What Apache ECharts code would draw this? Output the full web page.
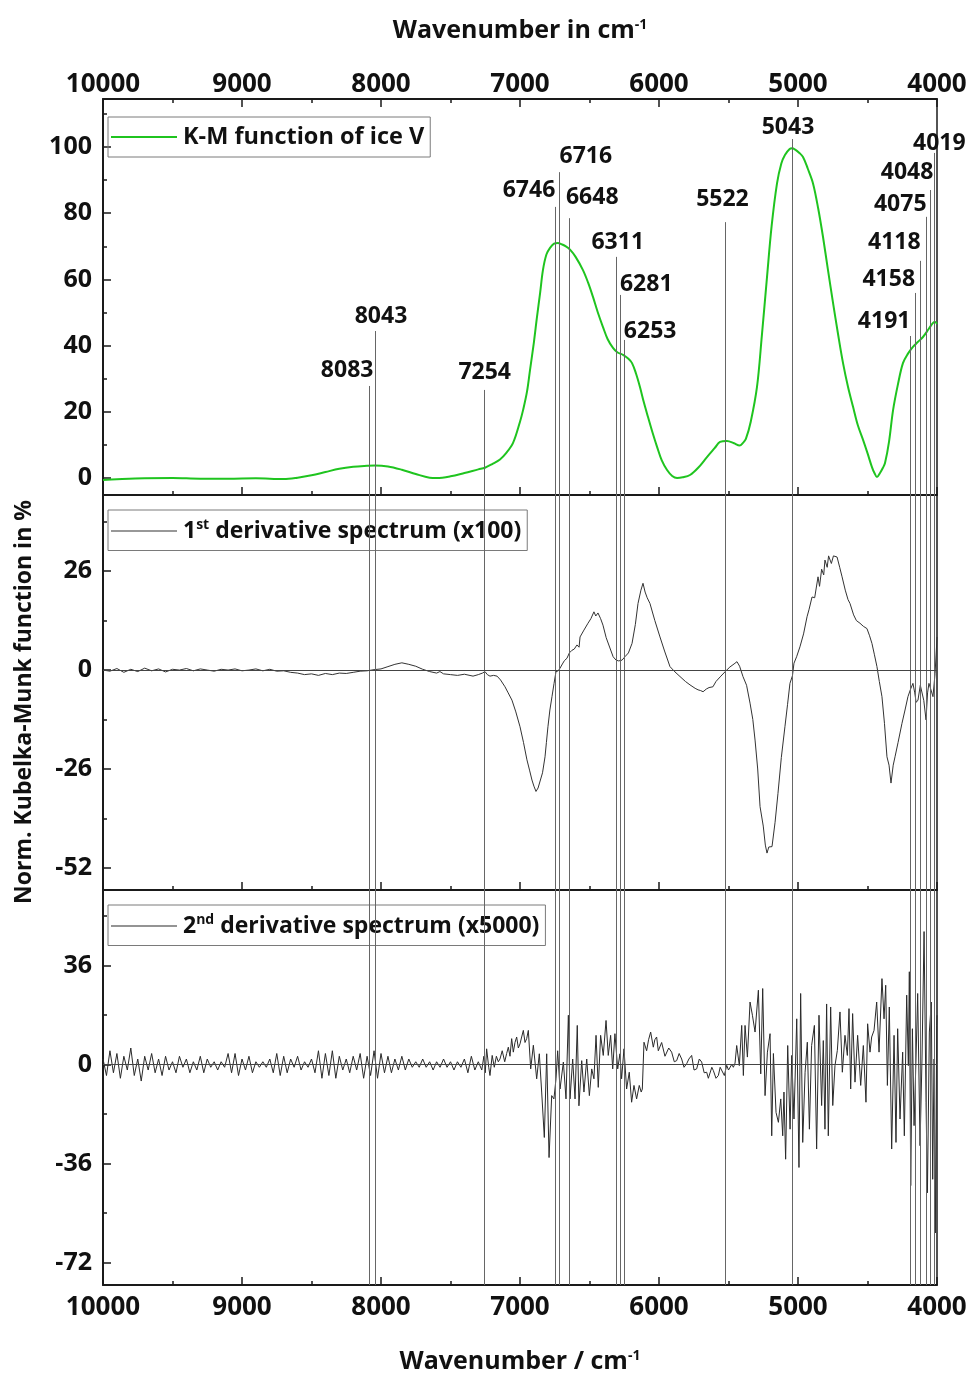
<!DOCTYPE html>
<html><head><meta charset="utf-8">
<script src="https://cdn.jsdelivr.net/npm/echarts@6/dist/echarts.min.js"></script>
<style>html,body{margin:0;padding:0;background:#fff}#c{width:973px;height:1376px}</style>
</head><body><div id="c"></div><script>
// ---------------- data ----------------
const xTickLabels = [10000, 9000, 8000, 7000, 6000, 5000, 4000];
const topTicks = [0, 20, 40, 60, 80, 100];
const midTicks = [-52, -26, 0, 26];
const botTicks = [-72, -36, 0, 36];

const peakWavenumbers = [8083, 8043, 7254, 6746, 6716, 6648, 6311, 6281, 6253, 5522, 5043, 4191, 4158, 4118, 4075, 4048, 4019];
const peakLineTops    = [27.8, 44.4, 26.6, 81.9, 92.4, 78.5, 66.8, 55.3, 41.7, 77.3, 102.4, 42.9, 55.9, 65.6, 78.9, 87.0, 98.2];
const peakLabelLevels = [32.6, 48.9, 32.0, 87.0, 97.0, 84.9, 71.3, 58.6, 44.4, 84.0, 106.0, 47.4, 60.1, 71.3, 82.5, 92.4, 101.2];

// K-M function of ice V [wavenumber, %]
const kmSpectrum = [[10000,-0.6],[9900,-0.4],[9700,-0.1],[9500,0],[9300,-0.2],[9100,-0.2],[8900,-0.1],[8700,-0.3],[8600,0.1],[8500,0.8],[8400,1.8],[8300,2.8],[8200,3.4],[8100,3.7],[8043,3.8],[7950,3.5],[7850,2.5],[7750,1.2],[7650,0.1],[7600,0],[7500,0.5],[7400,1.5],[7300,2.6],[7252,3.1],[7200,4.2],[7144,5.6],[7100,7.5],[7050,10.6],[7000,17],[6978,20.5],[6950,26],[6928,32.6],[6900,41],[6878,48.6],[6855,56],[6835,62.8],[6810,67.5],[6784,69.5],[6755,70.8],[6727,71],[6700,70.6],[6670,70],[6640,69],[6600,66.8],[6547,62.8],[6510,59],[6475,54.7],[6440,50],[6403,45.6],[6370,42],[6331,39.3],[6300,38],[6259,37.2],[6220,36],[6194,34.7],[6165,31.5],[6137,27.5],[6110,23],[6079,18.4],[6045,13.5],[6014,9.4],[5980,5.3],[5942,2.4],[5905,0.6],[5870,0],[5830,0.2],[5777,0.9],[5720,3],[5655,6.3],[5600,9],[5561,10.9],[5511,11.2],[5460,10.5],[5420,9.8],[5396,10.6],[5375,11.8],[5340,17],[5295,27.5],[5260,43],[5223,60.7],[5190,76],[5151,89],[5120,95],[5094,97.6],[5060,99.4],[5043,99.6],[5020,99.2],[4990,98.2],[4964,97],[4930,93.5],[4892,89],[4855,81.5],[4820,72.8],[4785,63],[4748,52.9],[4712,43.5],[4676,34.7],[4640,27.5],[4604,21.5],[4570,16],[4532,11.5],[4500,7.5],[4468,3.3],[4450,1.5],[4432,0.3],[4410,1.5],[4390,3],[4374,4.5],[4345,11],[4316,20.5],[4280,28.5],[4245,34.7],[4210,37.5],[4173,39.6],[4140,41],[4101,42.6],[4060,45],[4030,46.8],[4014,47.1],[4000,46.5]];

// 1st derivative spectrum (x100)
const firstDerivative = [[10000,0],[9950,-0.3],[9900,0.4],[9850,-0.6],[9800,0.2],[9750,-0.4],[9700,0.5],[9650,-0.2],[9600,0.3],[9550,-0.5],[9500,0.2],[9450,0],[9400,0.4],[9350,-0.2],[9300,0.3],[9250,0],[9200,-0.3],[9150,0.2],[9100,0],[9050,0.3],[9000,-0.2],[8950,0],[8900,0.3],[8850,-0.2],[8800,0.2],[8750,-0.3],[8700,-0.2],[8650,-0.6],[8600,-0.8],[8550,-1.2],[8500,-1],[8450,-1.4],[8400,-0.9],[8350,-1.2],[8300,-0.8],[8250,-0.9],[8200,-0.6],[8150,-0.3],[8100,-0.2],[8050,0.1],[8000,0.3],[7950,0.9],[7900,1.5],[7850,1.9],[7800,1.5],[7750,1],[7700,0.2],[7650,-0.4],[7600,-0.8],[7576,-0.4],[7550,-1],[7500,-1.2],[7450,-1.4],[7432,-1.3],[7400,-1.1],[7338,-1.6],[7300,-1.2],[7270,-0.8],[7252,-0.4],[7235,-1.2],[7216,-1.6],[7190,-1.4],[7165,-1.6],[7140,-2.6],[7108,-4.4],[7085,-6],[7058,-7.9],[7030,-11],[7000,-14.9],[6975,-19],[6950,-23.6],[6930,-26.5],[6914,-28.9],[6900,-30.5],[6885,-31.9],[6870,-31],[6856,-30.6],[6838,-27],[6820,-22.8],[6810,-19],[6799,-14.9],[6785,-10.5],[6770,-7],[6755,-3.5],[6741,-0.4],[6725,-0.2],[6712,0.5],[6695,1.6],[6680,2.5],[6662,3.1],[6645,4.5],[6626,5.2],[6610,5.5],[6590,6.6],[6575,6],[6568,8.7],[6540,10.5],[6511,12.3],[6490,13.5],[6468,15.3],[6455,14.2],[6439,15],[6420,13.5],[6403,11.8],[6380,8.5],[6353,5.8],[6330,3.5],[6309,2.6],[6290,2.4],[6266,2.6],[6245,3.5],[6220,4.5],[6194,7],[6170,12],[6151,17.5],[6130,21],[6115,22.8],[6100,20.5],[6085,19],[6065,17.5],[6030,13],[5993,8.7],[5960,5],[5921,0.9],[5885,-0.5],[5849,-1.7],[5810,-3],[5777,-3.9],[5740,-4.8],[5719,-5.2],[5700,-5.4],[5683,-5.7],[5660,-5],[5640,-4.6],[5612,-4.4],[5590,-3],[5560,-1.8],[5518,-0.2],[5490,0.8],[5460,1.6],[5439,2.2],[5420,1],[5396,-1.7],[5370,-4],[5345,-8.7],[5325,-13],[5309,-18.4],[5290,-26],[5273,-35.9],[5250,-41],[5235,-46],[5223,-48.1],[5210,-46.5],[5200,-47],[5187,-46.4],[5165,-40],[5144,-32.4],[5120,-23],[5094,-14.9],[5075,-9],[5058,-3.5],[5040,-1.5],[5029,1.8],[5010,3.5],[4986,6.1],[4960,9.5],[4935,14],[4920,16],[4899,19.2],[4880,19],[4856,24.5],[4845,22],[4830,26.5],[4815,25],[4806,28.9],[4790,27],[4780,30],[4770,29.7],[4760,28],[4745,30],[4719,29.7],[4700,27],[4683,24.5],[4660,21],[4640,18.5],[4626,17.5],[4600,14.5],[4580,13],[4554,12.3],[4530,11.5],[4504,10.9],[4485,9],[4468,7],[4450,4],[4432,0.9],[4415,-3],[4396,-7],[4378,-14],[4360,-22.8],[4345,-25],[4331,-29.7],[4315,-25],[4302,-22.8],[4280,-19],[4252,-14],[4230,-10.5],[4209,-7],[4190,-5],[4173,-3.5],[4160,-6],[4150,-8.5],[4137,-7.9],[4120,-4],[4108,-3.5],[4095,-8],[4079,-13.1],[4068,-6],[4058,-3.5],[4045,-5],[4029,-7],[4014,-0.9],[4005,5],[4000,8.7]];

// 2nd derivative spectrum (x5000)
const secondDerivativeHigh = [[10000,2],[9975,-4],[9950,5],[9925,-3],[9900,4],[9875,-5],[9850,3],[9825,-2],[9800,6],[9775,-4],[9750,2],[9725,-6],[9700,3],[9675,-2],[9650,4],[9625,-3],[9600,2],[9575,-4],[9550,3],[9525,-2],[9500,1],[9475,-3],[9450,3],[9425,-1],[9400,2],[9375,-3],[9350,1],[9325,-2],[9300,3],[9275,-3],[9250,2],[9225,-1],[9200,1],[9175,-2],[9150,1],[9125,-1],[9100,4],[9075,-3],[9050,4],[9025,-4],[9000,2],[8975,-2],[8950,3],[8925,-3],[8900,1],[8875,-1],[8850,1],[8825,-1],[8800,2],[8775,-3],[8750,4],[8725,-4],[8700,3],[8675,-3],[8650,2],[8625,-1],[8600,3],[8575,-2],[8550,1],[8525,-1],[8500,2],[8475,-3],[8450,5],[8425,-5],[8400,4],[8375,-4],[8350,5],[8325,-5],[8300,3],[8275,-2],[8250,2],[8225,-3],[8200,3],[8175,-2],[8150,4],[8125,-5],[8100,3],[8075,-4],[8050,5],[8025,-5],[8000,4],[7975,-3],[7950,3],[7925,-3],[7900,2],[7875,-2],[7850,3],[7825,-2],[7800,2],[7775,-1],[7750,1],[7725,-1],[7700,2],[7675,-1],[7650,1],[7625,-2],[7600,1],[7575,-1],[7550,2],[7525,-1],[7500,1],[7475,-2],[7450,1],[7425,-1],[7400,2],[7375,-3],[7350,3],[7325,-2],[7300,1]];
const secondDerivativeMid = [[7275,-2],[7260,3],[7250,-3],[7240,5.7],[7225,-1],[7216,-4],[7200,3.3],[7185,-1],[7170,3],[7156,1],[7144,2],[7128,5],[7110,1],[7096,4],[7084,6.3],[7072,3],[7060,9.4],[7048,4.5],[7036,8],[7024,10],[7012,6],[7000,7.5],[6988,10],[6976,12.4],[6964,8],[6952,9.4],[6940,12.4],[6923,-1.6],[6904,7],[6880,-5.2],[6861,3.9],[6844,-10],[6825,-26.5],[6808,3.9],[6791,-33.8],[6772,-11.3],[6756,-12.5],[6741,-5.2],[6729,5],[6712,-8.9],[6688,0.9],[6669,-12.5],[6652,17.9],[6640,-12.5],[6621,2],[6604,-12.5],[6588,14.2],[6576,-15],[6556,1.4],[6540,-10],[6520,2],[6501,-11.3],[6484,-1.6],[6468,-5.2],[6453,10.6],[6437,-8.3],[6420,10.6],[6401,3.3],[6381,16],[6365,3.3],[6348,10.6],[6333,-1.6],[6317,11.2],[6297,-1.6],[6281,3.9],[6269,-5.2],[6252,5.7],[6233,-8.9],[6214,-2.8],[6197,-13.7],[6180,-7.6],[6161,-12.5],[6142,-7.6],[6128,-10],[6120,-8.9],[6108,8.1],[6089,5],[6075,9],[6060,11.8],[6041,6.3],[6030,9],[6017,10],[6005,5],[5993,4.5],[5981,8],[5969,7.5],[5957,3],[5945,3.3],[5930,6],[5909,4.5],[5890,1],[5873,1.4],[5855,4],[5837,2],[5820,-1],[5801,0.3],[5785,2],[5765,3.3],[5748,-2],[5729,-1.6],[5710,2],[5693,0.9],[5675,-3],[5657,-2.8],[5645,-5],[5633,-5.2],[5620,-1],[5609,-2.2],[5590,-5],[5573,-4],[5560,-1],[5549,-1.6],[5530,-4],[5513,-0.3],[5500,-2]];
const secondDerivativeLow = [[5477,0],[5465,-1],[5453,0.5],[5441,6.9],[5422,-0.4],[5405,14.2],[5393,-4],[5381,14.2],[5364,2.7],[5345,22.7],[5328,17.9],[5309,11.8],[5285,27],[5268,-3.4],[5254,27.6],[5237,-11.3],[5220,4.5],[5201,11.2],[5189,-25.9],[5177,4],[5158,-17.4],[5141,-21],[5124,-12.5],[5110,-25.9],[5101,-10],[5089,-34.4],[5074,6.9],[5057,-23.5],[5045,3.3],[5029,-19.8],[5009,16.6],[4993,-37.4],[4981,25.8],[4966,-28.3],[4949,-2.8],[4933,8.1],[4918,-23.5],[4902,6.9],[4882,14.2],[4866,-30.7],[4849,17.9],[4830,-14.9],[4818,8.7],[4806,-23.5],[4794,22],[4782,-25.9],[4765,20.9],[4750,-14.9],[4734,-0.4],[4717,5.1],[4698,19.1],[4681,-2.8],[4662,10.6],[4645,3.3],[4633,20.3],[4621,-8.9],[4607,18.5],[4590,-6.4],[4571,10.6],[4549,-7.6],[4530,6.9],[4511,-13.7],[4499,14.8],[4482,4.5],[4470,10],[4453,12.4],[4434,22.7],[4417,4.5],[4396,31.2],[4381,16.6],[4369,28.8],[4357,-7.6],[4343,20.9],[4326,-30.7],[4309,10.6],[4295,-28.3],[4283,13],[4266,-19.8],[4247,4.5],[4235,-25.9],[4218,25.2],[4206,-0.4],[4199,33.7],[4189,-44],[4177,13],[4165,-22.2],[4151,2],[4139,25.8],[4122,-29.5],[4108,2],[4093,48.3],[4079,-13.7],[4069,-46.6],[4055,11.8],[4041,22.7],[4031,-41.7],[4021,2],[4012,-61.2],[4002,14.2],[4000,17.9]];

// ---------------- styles / layout ----------------
const FONT = '"Open Sans","DejaVu Sans",sans-serif';
const AX = '#1a1a1a';
const VLINE = '#666666';
const TOP_MIN = -5.14, TOP_MAX = 114.5;
const MID_MIN = -57.8, MID_MAX = 46;
const BOT_MIN = -80.1, BOT_MAX = 63.4;
// label alignment relative to its peak line, with small pixel nudges
const labelAlign = ['right','center','center','right','left','left','center','left','left','center','center','right','right','right','right','right','center'];
const labelDx    = [4, 6, 0, 0, 0, -3, 2, 0, 0, -3, -4, 0, 0, 0, 0, 3, 5];

const supRich = { sup: { fontSize: 14, fontWeight: 'bold', fontFamily: FONT, color: '#111', padding: [0, 0, 12, 0] } };

function xAxisCfg(gridIndex, position, showLabels, name, nameGap) {
  return {
    type: 'value', gridIndex, position, min: 4000, max: 10000, interval: 1000, inverse: true,
    axisLine: { show: true, onZero: false, lineStyle: { color: AX, width: 2 } },
    axisTick: { show: true, inside: true, length: 8, lineStyle: { color: AX, width: 1.5 } },
    minorTick: { show: true, splitNumber: 2, length: 4, lineStyle: { color: AX, width: 1.5 } },
    splitLine: { show: false }, minorSplitLine: { show: false },
    axisLabel: { show: showLabels, margin: position === 'top' ? 1 : 10, fontSize: 26, fontWeight: 'bold',
      fontFamily: FONT, color: '#111', formatter: v => xTickLabels.includes(v) ? String(v) : '' },
    name: name || '', nameLocation: 'middle', nameGap: nameGap || 0,
    nameTextStyle: { fontSize: 25, fontWeight: 'bold', fontFamily: FONT, color: '#111', rich: supRich }
  };
}
function yMainCfg(gridIndex, min, max, ticks, extra) {
  return Object.assign({
    type: 'value', gridIndex, position: 'left', min, max,
    axisLine: { show: true, onZero: false, lineStyle: { color: AX, width: 2 } },
    axisTick: { show: true, inside: true, length: 8, customValues: ticks, lineStyle: { color: AX, width: 1.5 } },
    axisLabel: { show: true, margin: 11, customValues: ticks, fontSize: 25, fontWeight: 'bold', fontFamily: FONT, color: '#111' },
    splitLine: { show: false }
  }, extra || {});
}
function yMinorCfg(gridIndex, min, max, minors) {
  return {
    type: 'value', gridIndex, position: 'left', min, max,
    axisLine: { show: false },
    axisTick: { show: true, inside: true, length: 4, customValues: minors, lineStyle: { color: AX, width: 1.5 } },
    axisLabel: { show: false, customValues: minors }, splitLine: { show: false }
  };
}
function yRightCfg(gridIndex, min, max) {
  return {
    type: 'value', gridIndex, position: 'right', min, max,
    axisLine: { show: true, onZero: false, lineStyle: { color: AX, width: 1.5 } },
    axisTick: { show: false }, axisLabel: { show: false }, splitLine: { show: false }
  };
}
const lineMarkStyle = { color: VLINE, width: 1, type: 'solid' };

function legendCfg(name, top, fontSize, lineH) {
  return {
    data: [name], left: 108, top, orient: 'horizontal',
    icon: 'rect', itemWidth: 66, itemHeight: lineH, itemGap: 0,
    borderColor: '#7a7a7a', borderWidth: 1, borderRadius: 0, padding: [8, 6, 8, 3],
    selectedMode: false,
    textStyle: { fontSize, fontWeight: 'bold', fontFamily: FONT, color: '#111', padding: [0, 0, 0, 1], rich: supRich },
    formatter: n => n.replace(/^1st/, '1{sup|st}').replace(/^2nd/, '2{sup|nd}')
  };
}

const chart = echarts.init(document.getElementById('c'), null, { renderer: 'canvas' });
const option = {
  animation: false,
  backgroundColor: '#fff',
  grid: [
    { left: 103, right: 36, top: 99, height: 396, outerBoundsMode: 'none', containLabel: false },
    { left: 103, right: 36, top: 495, height: 395, outerBoundsMode: 'none', containLabel: false },
    { left: 103, right: 36, top: 890, height: 395, outerBoundsMode: 'none', containLabel: false }
  ],
  xAxis: [
    xAxisCfg(0, 'bottom', false),
    xAxisCfg(0, 'top', true, 'Wavenumber in cm{sup|-1}', 55),
    xAxisCfg(1, 'bottom', false),
    xAxisCfg(2, 'bottom', true, 'Wavenumber / cm{sup|-1}', 64)
  ],
  yAxis: [
    yMainCfg(0, TOP_MIN, TOP_MAX, topTicks),
    yMinorCfg(0, TOP_MIN, TOP_MAX, [10, 30, 50, 70, 90, 110]),
    yRightCfg(0, TOP_MIN, TOP_MAX),
    yMainCfg(1, MID_MIN, MID_MAX, midTicks, {
      name: 'Norm. Kubelka-Munk function in %', nameLocation: 'middle', nameRotate: 90, nameGap: 67,
      nameTextStyle: { fontSize: 23, fontWeight: 'bold', fontFamily: FONT, color: '#111', padding: [0, 19, 0, 0] }
    }),
    yMinorCfg(1, MID_MIN, MID_MAX, [-39, -13, 13, 39]),
    yRightCfg(1, MID_MIN, MID_MAX),
    yMainCfg(2, BOT_MIN, BOT_MAX, botTicks),
    yMinorCfg(2, BOT_MIN, BOT_MAX, [-54, -18, 18, 54]),
    yRightCfg(2, BOT_MIN, BOT_MAX)
  ],
  legend: [
    legendCfg('K-M function of ice V', 117, 23.5, 2),
    legendCfg('1st derivative spectrum (x100)', 510, 23, 1),
    legendCfg('2nd derivative spectrum (x5000)', 905, 23, 1)
  ],
  series: [
    {
      name: 'peak labels', type: 'scatter', xAxisIndex: 0, yAxisIndex: 0, symbolSize: 0, z: 1, silent: true,
      itemStyle: { opacity: 1 },
      data: peakWavenumbers.map((w, i) => ({
        name: String(w), value: [w, peakLabelLevels[i]],
        label: { align: labelAlign[i], offset: [labelDx[i], 0] }
      })),
      label: { show: true, position: 'inside', verticalAlign: 'middle', formatter: p => p.name, opacity: 1,
        fontSize: 23, fontWeight: 'bold', fontFamily: FONT, color: '#111', textBorderWidth: 0 },
      markLine: {
        silent: true, symbol: ['none', 'none'], label: { show: false }, lineStyle: lineMarkStyle,
        data: peakWavenumbers.map((w, i) => [{ coord: [w, peakLineTops[i]] }, { coord: [w, TOP_MIN] }])
      }
    },
    {
      name: 'K-M function of ice V', type: 'line', xAxisIndex: 0, yAxisIndex: 0, z: 3,
      data: kmSpectrum, smooth: 0.35, symbol: 'none', showSymbol: false,
      lineStyle: { color: '#1fc41f', width: 2 }, itemStyle: { color: '#1fc41f' }
    },
    {
      name: '1st derivative spectrum (x100)', type: 'line', xAxisIndex: 2, yAxisIndex: 3, z: 3,
      data: firstDerivative, symbol: 'none', showSymbol: false,
      lineStyle: { color: '#333', width: 1 }, itemStyle: { color: '#333' },
      markLine: {
        silent: true, symbol: ['none', 'none'], label: { show: false }, lineStyle: lineMarkStyle,
        data: peakWavenumbers.map(w => ({ xAxis: w })).concat([{ yAxis: 0, lineStyle: { color: '#444', width: 1 } }])
      }
    },
    {
      name: '2nd derivative spectrum (x5000)', type: 'line', xAxisIndex: 3, yAxisIndex: 6, z: 3,
      data: secondDerivativeHigh.concat(secondDerivativeMid, secondDerivativeLow), symbol: 'none', showSymbol: false,
      lineStyle: { color: '#2a2a2a', width: 1 }, itemStyle: { color: '#2a2a2a' },
      markLine: {
        silent: true, symbol: ['none', 'none'], label: { show: false }, lineStyle: lineMarkStyle,
        data: peakWavenumbers.map(w => ({ xAxis: w })).concat([{ yAxis: 0, lineStyle: { color: '#444', width: 1 } }])
      }
    }
  ]
};
chart.setOption(option);
</script></body></html>
